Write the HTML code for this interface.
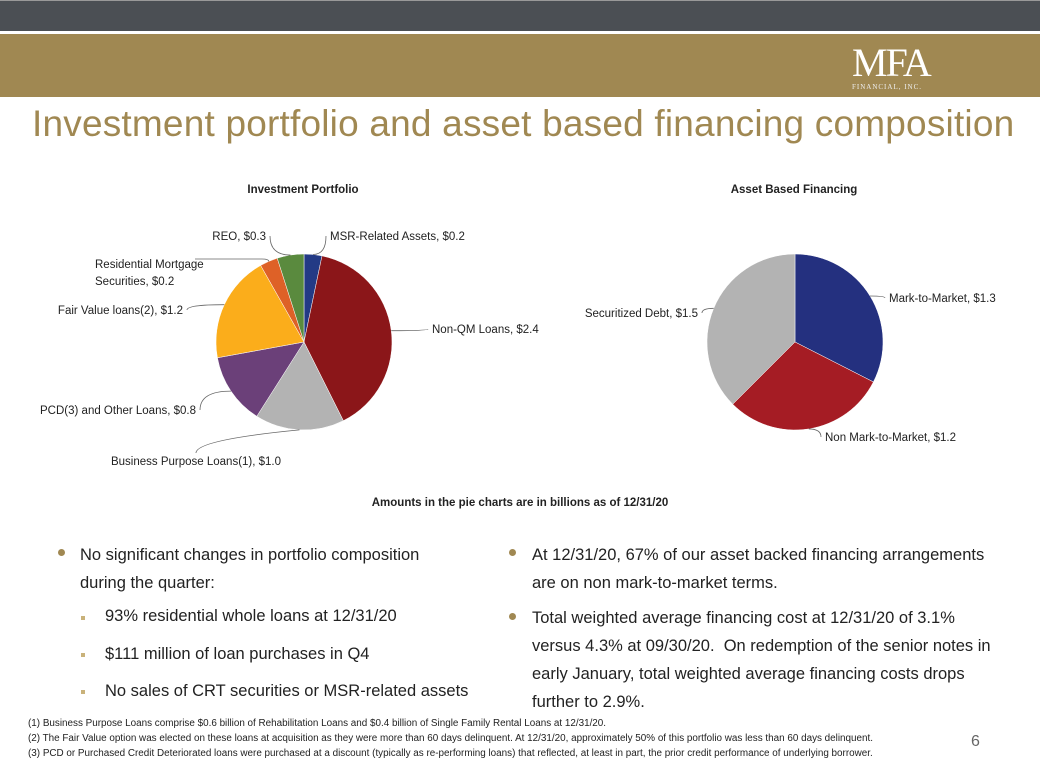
<!DOCTYPE html>
<html><head><meta charset="utf-8"><style>
body{margin:0;width:1040px;height:780px;position:relative;overflow:hidden;background:#fff;font-family:"Liberation Sans",sans-serif;}
.a{position:absolute;white-space:nowrap;}
.lbl{font-size:11.5px;fill:#222;font-family:"Liberation Sans",sans-serif;}
.b{font-size:16.5px;color:#222;}
.dot{position:absolute;width:7px;height:7px;border-radius:50%;background:#a08852;}
.sq{position:absolute;width:4px;height:4px;background:#c9b27a;}
.fn{font-size:9.9px;color:#222;}
</style></head><body>
<div class="a" style="left:0;top:0;width:1040px;height:30px;background:#4b4f54;border-top:1px solid #999"></div>
<div class="a" style="left:0;top:34px;width:1040px;height:63px;background:#a08852"></div>
<div class="a" style="left:852px;top:43px;color:#fff;font-family:'Liberation Serif',serif;font-size:40px;letter-spacing:-2px;line-height:40px">MFA</div>
<div class="a" style="left:852px;top:83px;color:#eee;font-family:'Liberation Serif',serif;font-size:7px;letter-spacing:1px">FINANCIAL, INC.</div>
<div class="a" style="left:32px;top:103px;color:#a08852;font-size:37px;letter-spacing:0.2px">Investment portfolio and asset based financing composition</div>

<svg class="a" style="left:0;top:0" width="1040" height="530" id="svg">
<text class="lbl" x="303" y="193" text-anchor="middle" font-weight="bold" font-size="13.5">Investment Portfolio</text>
<text class="lbl" x="794" y="193" text-anchor="middle" font-weight="bold" font-size="13.5">Asset Based Financing</text>
<text class="lbl" x="520" y="506" text-anchor="middle" font-weight="bold" font-size="11.5">Amounts in the pie charts are in billions as of 12/31/20</text>
</svg>

<div class="dot" style="left:58px;top:549px"></div>
<div class="a b" style="left:80px;top:541px;line-height:28px">No significant changes in portfolio composition<br>during the quarter:</div>
<div class="sq" style="left:81px;top:616px"></div>
<div class="a b" style="left:105px;top:607px">93% residential whole loans at 12/31/20</div>
<div class="sq" style="left:81px;top:653px"></div>
<div class="a b" style="left:105px;top:645px">$111 million of loan purchases in Q4</div>
<div class="sq" style="left:81px;top:690px"></div>
<div class="a b" style="left:105px;top:682px">No sales of CRT securities or MSR-related assets</div>

<div class="dot" style="left:509px;top:549px"></div>
<div class="a b" style="left:532px;top:541px;line-height:28px">At 12/31/20, 67% of our asset backed financing arrangements<br>are on non mark-to-market terms.</div>
<div class="dot" style="left:509px;top:613px"></div>
<div class="a b" style="left:532px;top:604px;line-height:28px">Total weighted average financing cost at 12/31/20 of 3.1%<br>versus 4.3% at 09/30/20.&nbsp; On redemption of the senior notes in<br>early January, total weighted average financing costs drops<br>further to 2.9%.</div>

<div class="a fn" style="left:28px;top:716px;line-height:15px">(1) Business Purpose Loans comprise $0.6 billion of Rehabilitation Loans and $0.4 billion of Single Family Rental Loans at 12/31/20.<br>(2) The Fair Value option was elected on these loans at acquisition as they were more than 60 days delinquent. At 12/31/20, approximately 50% of this portfolio was less than 60 days delinquent.<br>(3) PCD or Purchased Credit Deteriorated loans were purchased at a discount (typically as re-performing loans) that reflected, at least in part, the prior credit performance of underlying borrower.</div>
<div class="a" style="left:971px;top:733px;font-size:16px;color:#666">6</div>

<script>
const invLabels=["MSR-Related Assets, $0.2","Non-QM Loans, $2.4","Business Purpose Loans(1), $1.0","PCD(3) and Other Loans, $0.8","Fair Value loans(2), $1.2","Residential Mortgage|Securities, $0.2","REO, $0.3"];
const invValues=[0.2,2.4,1.0,0.8,1.2,0.2,0.3];
const invColors=["#233a85","#8b1619","#b3b3b3","#6b4079","#fbad1b","#de6127","#5a8a3e"];
const invLabelPos=[[330,240,"start"],[432,333,"start"],[196,465,"middle"],[196,414,"end"],[183,314,"end"],[95,268,"start",262,259],[266,240,"end"]];
const abfLabels=["Mark-to-Market, $1.3","Non Mark-to-Market, $1.2","Securitized Debt, $1.5"];
const abfValues=[1.3,1.2,1.5];
const abfColors=["#24307f","#a51c24","#b3b3b3"];
const abfLabelPos=[[889,302,"start"],[825,441,"start"],[698,317,"end"]];
const svg=document.getElementById('svg');
const NS="http://www.w3.org/2000/svg";
function pie(cx,cy,r,vals,cols,labels,pos,name){
  const tot=vals.reduce((a,b)=>a+b,0);let a0=0;
  vals.forEach((v,i)=>{
    const a1=a0+v/tot*2*Math.PI;
    const x0=cx+r*Math.sin(a0),y0=cy-r*Math.cos(a0),x1=cx+r*Math.sin(a1),y1=cy-r*Math.cos(a1);
    const p=document.createElementNS(NS,'path');
    p.setAttribute('d',`M${cx},${cy}L${x0},${y0}A${r},${r} 0 ${a1-a0>Math.PI?1:0} 1 ${x1},${y1}Z`);
    p.setAttribute('fill',cols[i]);p.setAttribute('stroke','#fff');p.setAttribute('stroke-width','0.5');
    
    
    svg.appendChild(p);
    const am=(a0+a1)/2, ex=cx+r*Math.sin(am), ey=cy-r*Math.cos(am);
    const [lx,ly,anc,ox,oy]=pos[i];
    const ln=document.createElementNS(NS,'path');
    let tx=anc==="start"?lx-4:anc==="end"?lx+4:lx, ty=anc==="middle"?ly-12:ly-4;
    if(ox!==undefined){tx=ox;ty=oy;}
    ln.setAttribute('d',ox!==undefined?`M${ex},${ey}Q${ex},${ty} ${tx},${ty}L${lx+100},${ty}`:`M${ex},${ey}Q${tx},${anc==="middle"?ey+10:ey} ${tx},${ty}`);
    ln.setAttribute('fill','none');ln.setAttribute('stroke','#666');ln.setAttribute('stroke-width','0.8');
    
    
    svg.appendChild(ln);
    const parts=labels[i].split('|');
    parts.forEach((s,k)=>{
      const t=document.createElementNS(NS,'text');
      t.setAttribute('class','lbl');t.setAttribute('x',lx);t.setAttribute('y',ly+k*17);t.setAttribute('text-anchor',anc);
      t.textContent=s;
      
      
      svg.appendChild(t);
    });
    a0=a1;
  });
}
pie(304,342,88,invValues,invColors,invLabels,invLabelPos,'investment');
pie(795,342,88,abfValues,abfColors,abfLabels,abfLabelPos,'financing');
</script>
</body></html>
